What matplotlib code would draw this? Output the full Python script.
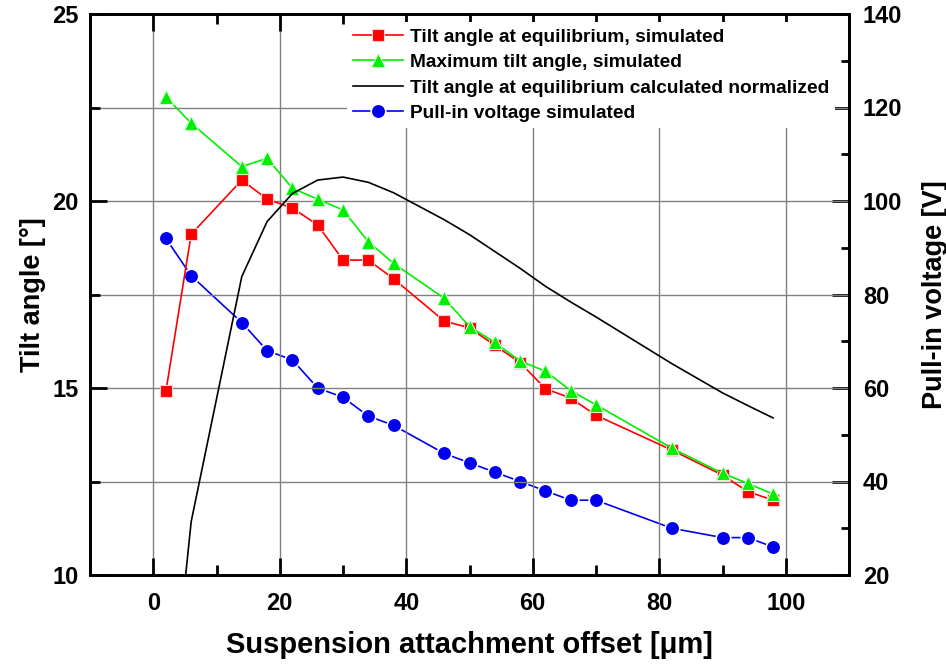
import matplotlib
matplotlib.use("Agg")
import matplotlib.pyplot as plt
from matplotlib.ticker import MultipleLocator

plt.rcParams['font.family'] = ['Liberation Sans', 'DejaVu Sans']
plt.rcParams['font.weight'] = 'bold'

offset = [2, 6, 14, 18, 22, 26, 30, 34, 38, 46, 50, 54, 58, 62, 66, 70, 82, 90, 94, 98]
tilt_eq_sim = [14.91, 19.11, 20.56, 20.05, 19.81, 19.36, 18.42, 18.42, 17.92, 16.79,
               16.61, 16.14, 15.68, 14.98, 14.73, 14.27, 13.34, 12.67, 12.23, 12.0]
tilt_max_sim = [22.78, 22.08, 20.92, 21.14, 20.34, 20.05, 19.76, 18.91, 18.33, 17.40,
                16.64, 16.22, 15.72, 15.45, 14.93, 14.55, 13.39, 12.72, 12.45, 12.16]
tilt_eq_calc = [4.9, 11.43, 17.98, 19.45, 20.2, 20.56, 20.64, 20.5, 20.22, 19.5,
                19.1, 18.65, 18.2, 17.72, 17.3, 16.9, 15.65, 14.87, 14.53, 14.2]
pullin_v = [92, 84, 74, 68, 66, 60, 58, 54, 52, 46, 44, 42, 40, 38, 36, 36, 30, 28, 28, 26]

fig = plt.figure(figsize=(9.46, 6.66), dpi=100)
ax = fig.add_axes([90 / 946, 1 - 575 / 666, 759 / 946, 561 / 666])
ax2 = ax.twinx()

l1, = ax.plot(offset, tilt_eq_sim, '-s', color='red', lw=1.2, ms=8.5,
              mec='#ffd0d0', mew=0.8, label='Tilt angle at equilibrium, simulated')
l2, = ax.plot(offset, tilt_max_sim, '-^', color='#00ee00', lw=1.2, ms=10.5,
              mec='#d0ffd0', mew=0.8, label='Maximum tilt angle, simulated')
l3, = ax.plot(offset, tilt_eq_calc, '-', color='black', lw=1.2,
              label='Tilt angle at equilibrium calculated normalized')
l4, = ax2.plot(offset, pullin_v, '-o', color='#0000ee', lw=1.2, ms=10.5,
               mec='white', mew=1.2, label='Pull-in voltage simulated')

ax.set_xlim(-10, 110)
ax.set_ylim(10, 25)
ax2.set_ylim(20, 140)

ax.xaxis.set_major_locator(MultipleLocator(20))
ax.xaxis.set_minor_locator(MultipleLocator(10))
ax.yaxis.set_major_locator(MultipleLocator(5))
ax.yaxis.set_minor_locator(MultipleLocator(2.5))
ax2.yaxis.set_major_locator(MultipleLocator(20))
ax2.yaxis.set_minor_locator(MultipleLocator(10))

ax.grid(True, axis='x', which='major', color='#808080', lw=1)
ax.grid(True, axis='y', which='both', color='#808080', lw=1)
ax.set_axisbelow(True)

for a in (ax, ax2):
    for s in a.spines.values():
        s.set_linewidth(2)
ax.tick_params(which='both', direction='in', top=True, width=2, labelsize=17, pad=8)
ax.tick_params(which='major', length=12)
ax.tick_params(which='minor', length=7)
ax.tick_params(axis='x', pad=12)
ax2.tick_params(which='both', direction='in', width=2, labelsize=17, pad=10)
ax2.tick_params(which='major', length=12)
ax2.tick_params(which='minor', length=6)

ax.set_xlabel('Suspension attachment offset [\u03bcm]', fontsize=21, fontweight='bold', labelpad=12)
ax.set_ylabel('Tilt angle [\u00b0]', fontsize=19.5, fontweight='bold', labelpad=5)
ax2.set_ylabel('Pull-in voltage [V]', fontsize=19.5, fontweight='bold', labelpad=14)

ax.set_zorder(ax2.get_zorder() + 1)
ax.patch.set_visible(False)

leg = ax.legend(handles=[l1, l2, l3, l4], loc='upper left', bbox_to_anchor=(0.339, 0.985),
                frameon=True, fontsize=13.8, handlelength=2.6, handletextpad=0.35,
                labelspacing=0.42, borderpad=0.3, borderaxespad=0)
leg.get_frame().set_edgecolor('none')
leg.get_frame().set_facecolor('white')
leg.get_frame().set_alpha(1)
for t in leg.get_texts():
    t.set_fontweight('bold')

fig.savefig('out.png', dpi=100)
